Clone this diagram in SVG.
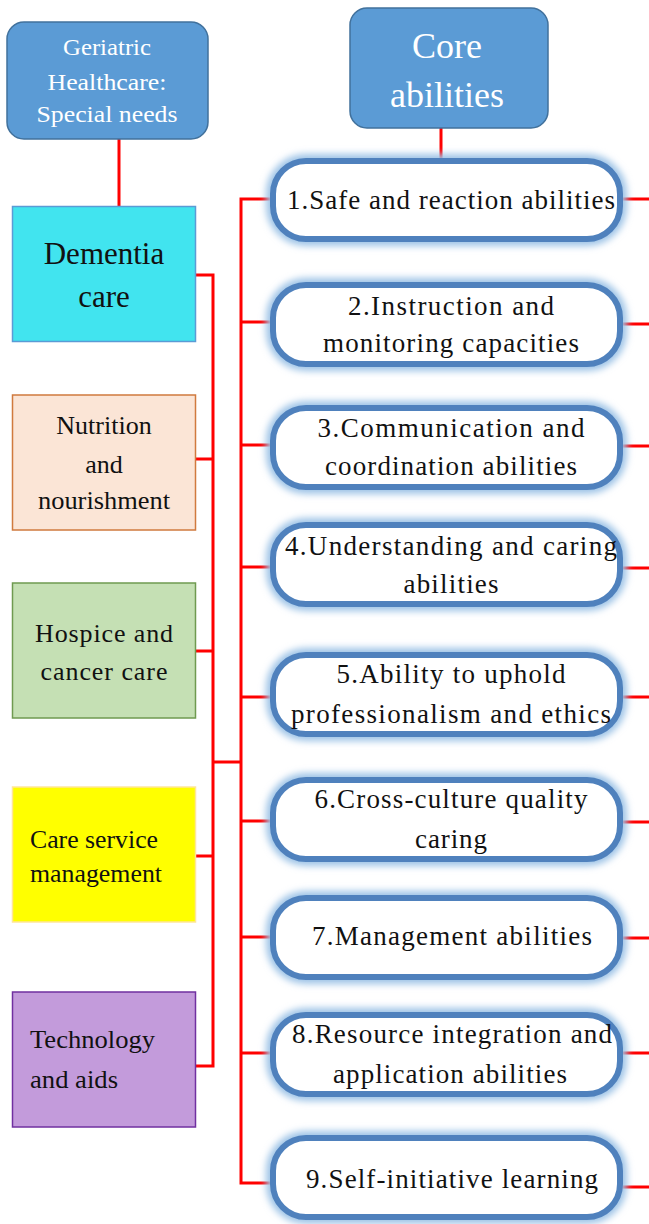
<svg xmlns="http://www.w3.org/2000/svg" width="649" height="1224" viewBox="0 0 649 1224" font-family="Liberation Serif">
<defs>
<filter id="glow" x="-10%" y="-30%" width="120%" height="160%">
<feGaussianBlur stdDeviation="3.5"/>
</filter>
<style>
.hdr{fill:#5b9bd5;stroke:#41719c;stroke-width:1.5}
.ht{fill:#ffffff;text-anchor:middle}
.t{fill:#111111}
.c{text-anchor:middle}
.ab{font-size:27px}
.glowr{fill:none;stroke:#9dc3e6;stroke-width:14;filter:url(#glow)}
.pill{fill:#ffffff;stroke:#4f81bd;stroke-width:6}
.wire{fill:none;stroke:#ff0000;stroke-width:3}
</style>
</defs>
<g id="connectors">
<path class="wire" d="M119 139V206"/>
<path class="wire" d="M441 128V158"/>
<path class="wire" d="M196 275H213M196 459H213M196 651H213M196 856H213M196 1066H213M213 273.5V1067.5M213 762H241"/>
<path class="wire" d="M241 197.5V1184.5M241 199H273M241 322H273M241 445H273M241 567H273M241 697H273M241 821H273M241 937H273M241 1053H273M241 1183H273"/>
<path class="wire" d="M622 199H649M622 324H649M622 446H649M622 568H649M622 697H649M622 822H649M622 938H649M622 1053H649M622 1187H649"/>
</g>
<g id="geriatric" font-family="Liberation Serif">
<rect class="hdr" x="7" y="22" width="201" height="117" rx="17"/>
<text class="ht" font-size="24" x="107" y="55" textLength="88" lengthAdjust="spacingAndGlyphs">Geriatric</text>
<text class="ht" font-size="24" x="107" y="90" textLength="119" lengthAdjust="spacingAndGlyphs">Healthcare:</text>
<text class="ht" font-size="24" x="107" y="122" textLength="141" lengthAdjust="spacingAndGlyphs">Special needs</text>
</g>
<g id="core" font-family="Liberation Serif">
<rect class="hdr" x="350" y="8" width="198" height="120" rx="17"/>
<text class="ht" font-size="36" x="447" y="58">Core</text>
<text class="ht" font-size="36" x="447" y="107">abilities</text>
</g>
<g id="dementia" font-family="Liberation Serif">
<rect x="12.5" y="206.5" width="183" height="135" fill="#41e4ef" stroke="#5b9bd5" stroke-width="1.5"/>
<text class="t c" font-size="31" x="104" y="264">Dementia</text>
<text class="t c" font-size="31" x="104" y="307">care</text>
</g>
<g id="nutrition" font-family="Liberation Serif">
<rect x="12.5" y="395" width="183" height="135" fill="#fbe5d6" stroke="#d07a3e" stroke-width="1.5"/>
<text class="t c" font-size="26" x="104" y="434">Nutrition</text>
<text class="t c" font-size="26" x="104" y="473">and</text>
<text class="t c" font-size="26" x="104" y="509" textLength="132" lengthAdjust="spacingAndGlyphs">nourishment</text>
</g>
<g id="hospice" font-family="Liberation Serif">
<rect x="12.5" y="583" width="183" height="135" fill="#c5e0b4" stroke="#6f9a50" stroke-width="1.5"/>
<text class="t c" font-size="26" x="104" y="642" textLength="138" lengthAdjust="spacing">Hospice and</text>
<text class="t c" font-size="26" x="104" y="680" textLength="127" lengthAdjust="spacing">cancer care</text>
</g>
<g id="care-service" font-family="Liberation Serif">
<rect x="12.5" y="787" width="183" height="135" fill="#ffff00" stroke="#ffe699" stroke-width="1.5"/>
<text class="t" font-size="25" x="30" y="848" textLength="128" lengthAdjust="spacingAndGlyphs">Care service</text>
<text class="t" font-size="25" x="30" y="882" textLength="132" lengthAdjust="spacingAndGlyphs">management</text>
</g>
<g id="technology" font-family="Liberation Serif">
<rect x="12.5" y="992" width="183" height="135" fill="#c39bdb" stroke="#7030a0" stroke-width="1.5"/>
<text class="t" font-size="26" x="30" y="1048" textLength="125" lengthAdjust="spacingAndGlyphs">Technology</text>
<text class="t" font-size="26" x="30" y="1088" textLength="88" lengthAdjust="spacingAndGlyphs">and aids</text>
</g>
<g id="ability1" font-family="Liberation Serif">
<rect class="glowr" x="273" y="161" width="347" height="78" rx="33"/>
<rect class="pill" x="273" y="161" width="347" height="78" rx="33"/>
<text class="t c ab" x="451" y="209" textLength="328" lengthAdjust="spacing">1.Safe and reaction abilities</text>
</g>
<g id="ability2" font-family="Liberation Serif">
<rect class="glowr" x="273" y="285" width="347" height="79" rx="33"/>
<rect class="pill" x="273" y="285" width="347" height="79" rx="33"/>
<text class="t c ab" x="451" y="315" textLength="206" lengthAdjust="spacing">2.Instruction and</text>
<text class="t c ab" x="451" y="352" textLength="256" lengthAdjust="spacing">monitoring capacities</text>
</g>
<g id="ability3" font-family="Liberation Serif">
<rect class="glowr" x="273" y="408" width="347" height="79" rx="33"/>
<rect class="pill" x="273" y="408" width="347" height="79" rx="33"/>
<text class="t c ab" x="451" y="437" textLength="267" lengthAdjust="spacing">3.Communication and</text>
<text class="t c ab" x="451" y="475" textLength="252" lengthAdjust="spacing">coordination abilities</text>
</g>
<g id="ability4" font-family="Liberation Serif">
<rect class="glowr" x="273" y="525" width="347" height="79" rx="33"/>
<rect class="pill" x="273" y="525" width="347" height="79" rx="33"/>
<text class="t c ab" x="451" y="555" textLength="332" lengthAdjust="spacing">4.Understanding and caring</text>
<text class="t c ab" x="451" y="593" textLength="95" lengthAdjust="spacing">abilities</text>
</g>
<g id="ability5" font-family="Liberation Serif">
<rect class="glowr" x="273" y="655" width="347" height="79" rx="33"/>
<rect class="pill" x="273" y="655" width="347" height="79" rx="33"/>
<text class="t c ab" x="451" y="683" textLength="229" lengthAdjust="spacing">5.Ability to uphold</text>
<text class="t c ab" x="451" y="723" textLength="320" lengthAdjust="spacing">professionalism and ethics</text>
</g>
<g id="ability6" font-family="Liberation Serif">
<rect class="glowr" x="273" y="780" width="347" height="79" rx="33"/>
<rect class="pill" x="273" y="780" width="347" height="79" rx="33"/>
<text class="t c ab" x="451" y="808" textLength="273" lengthAdjust="spacing">6.Cross-culture quality</text>
<text class="t c ab" x="451" y="848" textLength="72" lengthAdjust="spacing">caring</text>
</g>
<g id="ability7" font-family="Liberation Serif">
<rect class="glowr" x="273" y="898" width="347" height="79" rx="33"/>
<rect class="pill" x="273" y="898" width="347" height="79" rx="33"/>
<text class="t c ab" x="452" y="945" textLength="280" lengthAdjust="spacing">7.Management abilities</text>
</g>
<g id="ability8" font-family="Liberation Serif">
<rect class="glowr" x="273" y="1015" width="347" height="79" rx="33"/>
<rect class="pill" x="273" y="1015" width="347" height="79" rx="33"/>
<text class="t c ab" x="452" y="1043" textLength="320" lengthAdjust="spacing">8.Resource integration and</text>
<text class="t c ab" x="450" y="1083" textLength="234" lengthAdjust="spacing">application abilities</text>
</g>
<g id="ability9" font-family="Liberation Serif">
<rect class="glowr" x="273" y="1138" width="347" height="79" rx="33"/>
<rect class="pill" x="273" y="1138" width="347" height="79" rx="33"/>
<text class="t c ab" x="452" y="1188" textLength="292" lengthAdjust="spacing">9.Self-initiative learning</text>
</g>
</svg>
